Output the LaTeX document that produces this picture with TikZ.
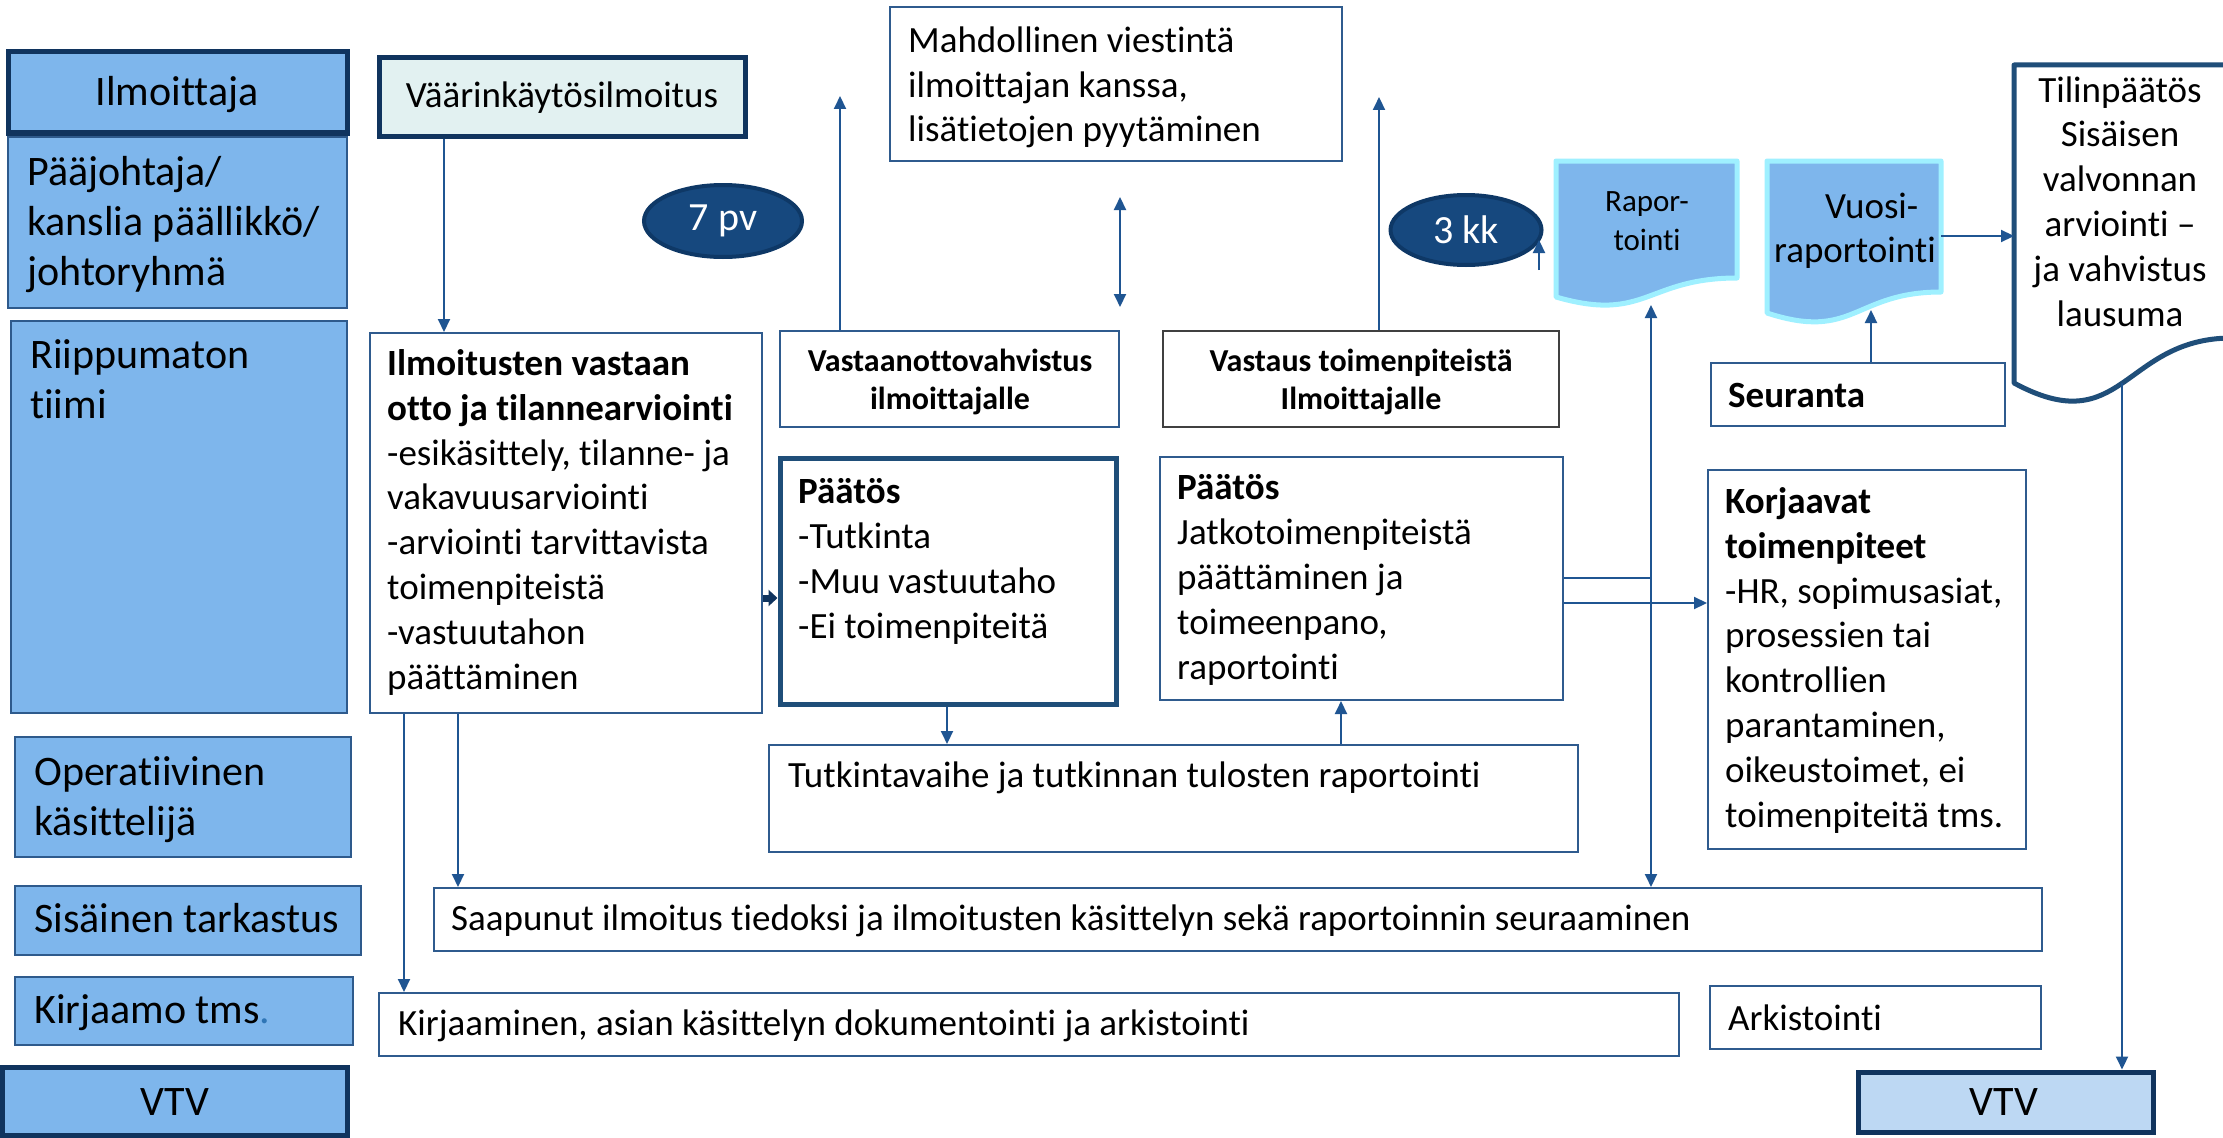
\documentclass[tikz,border=0pt]{standalone}
\usepackage{fontspec}
\setmainfont{Carlito}[Ligatures={TeX,NoCommon}]
\usetikzlibrary{arrows.meta,fit,shapes.geometric}
\definecolor{lanefill}{HTML}{7EB6EC}
\definecolor{lanebd}{HTML}{2E5A8C}
\definecolor{navy}{HTML}{10345E}
\definecolor{boxbd}{HTML}{2F5B8E}
\definecolor{arrc}{HTML}{1F5592}
\definecolor{pale}{HTML}{E2F1F1}
\definecolor{ellfill}{HTML}{16487E}
\definecolor{ellbd}{HTML}{0E3866}
\definecolor{docbd}{HTML}{9FF0FF}
\definecolor{vtvfill}{HTML}{BDD8F3}
\definecolor{thickblue}{HTML}{1F4E79}
\definecolor{dotblue}{HTML}{2E75B6}
\definecolor{grayb}{HTML}{404040}
\begin{document}
\begin{tikzpicture}[x=1pt,y=-1pt,
  lane/.style={draw=lanebd, line width=2pt, fill=lanefill, inner sep=0pt},
  lanethick/.style={draw=navy, line width=5pt, fill=lanefill, inner sep=0pt},
  wbox/.style={draw=boxbd, line width=2pt, fill=white, inner sep=0pt},
  docshape/.style={draw=docbd, line width=5pt, fill=lanefill, line join=round},
  ell/.style={ellipse, draw=ellbd, line width=4pt, fill=ellfill, text=white, inner sep=0pt, font=\fontsize{40}{48}\selectfont},
  arr/.style={draw=arrc, line width=2pt, -{Triangle[length=13pt,width=12pt]}},
  dblarr/.style={draw=arrc, line width=2pt, {Triangle[length=13pt,width=12pt]}-{Triangle[length=13pt,width=12pt]}},
  conn/.style={draw=arrc, line width=2pt},
  fatarr/.style={draw=navy, line width=7pt, -{Triangle[length=9pt,width=16pt]}},
  lanetxt/.style={font=\fontsize{42}{50}\selectfont, align=left, inner sep=0pt},
  bodytxt/.style={font=\fontsize{37}{44.8}\selectfont, align=left, inner sep=0pt},
  smallbold/.style={font=\fontsize{32}{38}\selectfont\bfseries, align=center, inner sep=0pt}
]
\useasboundingbox (0,0) rectangle (2223,1137);
\fill[white] (0,0) rectangle (2223,1137);

% ---- lanes ----
\node[lanethick, fit={(8,52) (347,133)}] (lIlm) {};
\node[lanetxt, anchor=base] (tIlm) at (177,106) {Ilmoittaja};
\node[lane, fit={(8,137) (347,308)}] (lPj) {};
\node[lanetxt, anchor=base west] (tPj) at (27,285) {Pääjohtaja/\\kanslia päällikkö/\\johtoryhmä};
\node[lane, fit={(11,321) (347,713)}] (lRt) {};
\node[lanetxt, anchor=base west] (tRt) at (30,418) {Riippumaton\\tiimi};
\node[lane, fit={(15,737) (351,857)}] (lOp) {};
\node[lanetxt, anchor=base west] (tOp) at (34,835) {Operatiivinen\\käsittelijä};
\node[lane, fit={(15,886) (361,955)}] (lSt) {};
\node[lanetxt, anchor=base west] (tSt) at (34,932) {Sisäinen tarkastus};
\node[lane, fit={(15,977) (353,1045)}] (lKi) {};
\node[lanetxt, anchor=base west] (tKi) at (34,1023) {Kirjaamo tms\textcolor{dotblue}{.}};
\node[lanethick, fit={(2,1067) (347,1135)}] (lVtv) {};
\node[lanetxt, anchor=base] (tVtv) at (175,1115) {VTV};

% ---- top row ----
\node[draw=navy, line width=5pt, fill=pale, inner sep=0pt, fit={(379,58) (745,136)}] (vaar) {};
\node[bodytxt, anchor=base] (tVaar) at (562,108) {Väärinkäytösilmoitus};
\node[ell, minimum width=158pt, minimum height=72pt] (pv7) at (723,221) {7 pv};
\node[wbox, fit={(890,7) (1342,161)}] (mahd) {};
\node[bodytxt, anchor=base west] (tMahd) at (908,142) {Mahdollinen viestintä\\ilmoittajan kanssa,\\lisätietojen pyytäminen};
\node[ell, minimum width=151pt, minimum height=70pt] (kk3) at (1466,230) {3 kk};

% document shapes
\draw[docshape] (1556,161) -- (1737,161) -- (1737,278) .. controls (1646,278) and (1646,323) .. (1556,297) -- cycle;
\node[font=\fontsize{31}{39}\selectfont, align=center, inner sep=0pt, anchor=base] (tRap) at (1647,250) {Rapor-\\tointi};
\draw[docshape] (1767,161) -- (1941,161) -- (1941,292) .. controls (1854,292) and (1854,341.5) .. (1767,313) -- cycle;
\node[font=\fontsize{37}{44}\selectfont, align=center, inner sep=0pt, anchor=base] (tVuo) at (1855,262) {\hspace*{0.9em}Vuosi-\\raportointi};
\draw[draw=thickblue, line width=5pt, fill=white, line join=round] (2014,65) -- (2232,65) -- (2232,338) .. controls (2123,338) and (2123,442) .. (2014,383) -- cycle;
\node[bodytxt, align=center, anchor=base] (tTil) at (2120,326) {Tilinpäätös\\Sisäisen\\valvonnan\\arviointi –\\ja vahvistus\\lausuma};

% ---- team row ----
\node[wbox, fit={(370,333) (762,713)}] (ilmo) {};
\node[bodytxt, anchor=base west] (tIlmo) at (387,689) {\textbf{Ilmoitusten vastaan}\\\textbf{otto ja tilannearviointi}\\-esikäsittely, tilanne- ja\\vakavuusarviointi\\-arviointi tarvittavista\\toimenpiteistä\\-vastuutahon\\päättäminen};
\node[wbox, fit={(780,331) (1119,427)}] (vast1) {};
\node[smallbold, anchor=base] (tVast1) at (950,409) {Vastaanottovahvistus\\ilmoittajalle};
\node[wbox, draw=grayb, fit={(1163,331) (1559,427)}] (vast2) {};
\node[smallbold, anchor=base] (tVast2) at (1361,409) {Vastaus toimenpiteistä\\Ilmoittajalle};
\node[wbox, fit={(1711,363) (2005,426)}] (seur) {};
\node[bodytxt, font=\fontsize{37}{44.8}\selectfont\bfseries, anchor=base west] (tSeur) at (1728,407) {Seuranta};
\node[wbox, draw=thickblue, line width=5pt, fit={(780,458) (1116,704)}] (p1) {};
\node[bodytxt, anchor=base west] (tP1) at (798,638) {\textbf{Päätös}\\-Tutkinta\\-Muu vastuutaho\\-Ei toimenpiteitä};
\node[wbox, fit={(1160,457) (1563,700)}] (p2) {};
\node[bodytxt, anchor=base west] (tP2) at (1177,679) {\textbf{Päätös}\\Jatkotoimenpiteistä\\päättäminen ja\\toimeenpano,\\raportointi};
\node[wbox, fit={(1708,470) (2026,849)}] (kor) {};
\node[bodytxt, anchor=base west] (tKor) at (1725,827) {\textbf{Korjaavat}\\\textbf{toimenpiteet}\\-HR, sopimusasiat,\\prosessien tai\\kontrollien\\parantaminen,\\oikeustoimet, ei\\toimenpiteitä tms.};

% ---- lower rows ----
\node[wbox, fit={(769,745) (1578,852)}] (tutk) {};
\node[bodytxt, anchor=base west] (tTutk) at (788,787) {Tutkintavaihe ja tutkinnan tulosten raportointi};
\node[wbox, fit={(434,888) (2042,951)}] (saap) {};
\node[bodytxt, anchor=base west] (tSaap) at (451,930) {Saapunut ilmoitus tiedoksi ja ilmoitusten käsittelyn sekä raportoinnin seuraaminen};
\node[wbox, fit={(379,993) (1679,1056)}] (kirj) {};
\node[bodytxt, anchor=base west] (tKirj) at (398,1035) {Kirjaaminen, asian käsittelyn dokumentointi ja arkistointi};
\node[wbox, fit={(1710,986) (2041,1049)}] (ark) {};
\node[bodytxt, anchor=base west] (tArk) at (1728,1030) {Arkistointi};
\node[draw=navy, line width=5pt, fill=vtvfill, inner sep=0pt, fit={(1858,1072) (2153,1132)}] (vtvr) {};
\node[lanetxt, anchor=base] (tVtvr) at (2004,1115) {VTV};

% ---- free ends ----
\coordinate (upA) at (840,96);
\coordinate (upB) at (1379,97);
\coordinate (dblA) at (1120,197);
\coordinate (dblB) at (1120,307);
\coordinate (kkA) at (1539,270);
\coordinate (kkB) at (1539,240);
\coordinate (rapB) at (1651,305);
\coordinate (vuoB) at (1871,310);
\coordinate (vuoR) at (1941,236);
\coordinate (tilL) at (2014,236);
\coordinate (tilB) at (2122,383);
\coordinate (jn) at (1651,578);

% ---- connectors ----
\draw[arr] (444,0 |- vaar.south) -- (444,0 |- ilmo.north);
\draw[arr] (840,0 |- vast1.north) -- (upA);
\draw[dblarr] (dblA) -- (dblB);
\draw[arr] (1379,0 |- vast2.north) -- (upB);
\draw[arr] (kkA) -- (kkB);
\draw[arr] (vuoR) -- (tilL);
\draw[arr] (tilB) -- (2122,0 |- vtvr.north);
\draw[arr] (1871,0 |- seur.north) -- (vuoB);
\draw[dblarr] (rapB) -- (1651,0 |- saap.north);
\draw[conn] (p2.east |- jn) -- (jn);
\draw[arr] (p2.east |- 0,603) -- (kor.west |- 0,603);
\draw[arr] (947,0 |- p1.south) -- (947,0 |- tutk.north);
\draw[arr] (1341,0 |- tutk.north) -- (1341,0 |- p2.south);
\draw[arr] (458,0 |- ilmo.south) -- (458,0 |- saap.north);
\draw[arr] (404,0 |- ilmo.south) -- (404,0 |- kirj.north);
\draw[fatarr] (ilmo.east |- 0,598) -- (p1.west |- 0,598);
\end{tikzpicture}
\end{document}
